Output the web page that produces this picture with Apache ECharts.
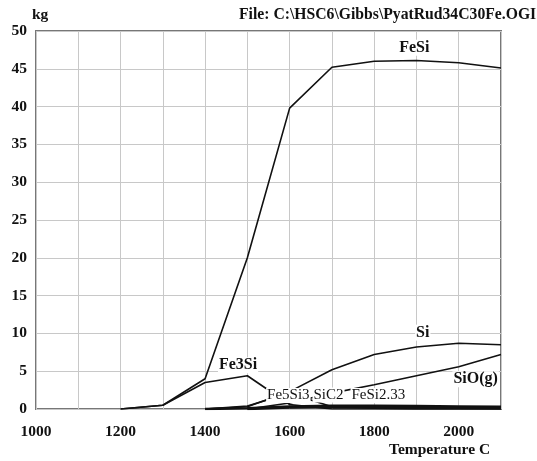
<!DOCTYPE html>
<html><head><meta charset="utf-8">
<script src="https://cdn.jsdelivr.net/npm/echarts@6/dist/echarts.min.js"></script>
<style>html,body{margin:0;padding:0;background:#fff}#c{width:537px;height:461px}</style>
</head><body><div id="c"></div>
<script>
var temps = [1000,1100,1200,1300,1400,1500,1600,1700,1800,1900,2000,2100];
var FeSi    = [null,null,0,0.5,4.0,20.0,39.8,45.2,46.0,46.1,45.8,45.1];
var Fe3Si   = [null,null,0,0.5,3.5,4.4,0.6,0,0,0,0,0];
var Si      = [null,null,null,null,0,0.3,2.3,5.2,7.2,8.2,8.7,8.5];
var SiOg    = [null,null,null,null,null,0,0.8,2.1,3.2,4.4,5.6,7.2];
var Fe5Si3  = [null,null,null,null,0,0.4,2.1,0.3,0.1,0,0,0];
var SiC     = [null,null,null,null,0,0.1,0.35,0.45,0.45,0.4,0.35,0.3];
var FeSi233 = [null,null,null,null,null,0,0.2,0.3,0.25,0.2,0.15,0.1];

var labelNames = ['FeSi','Si','Fe3Si','SiO(g)','Fe5Si3','SiC2','FeSi2.33'];
var labelT     = [1895,1915,1478,2040,1597,1692,1810];
var labelV     = [47.8,10.1,5.8,3.95,1.8,1.85,1.8];
var labelBold  = [true,true,true,true,false,false,false];

var yTicks = [0,5,10,15,20,25,30,35,40,45,50];
var xTickLabels = [1000,1200,1400,1600,1800,2000];

var FONT = '"Liberation Serif","Times New Roman",serif';
function pairs(arr){ return temps.map(function(t,i){ return [t, arr[i]]; }); }
var seriesData = [FeSi,Fe3Si,Si,SiOg,Fe5Si3,SiC,FeSi233];
var seriesNames = ['FeSi','Fe3Si','Si','SiO(g)','Fe5Si3','SiC','FeSi2.33'];
var widths = [1.6,1.6,1.6,1.6,1.6,2.4,2.4];

var series = seriesData.map(function(d,i){
  return {type:'line', name:seriesNames[i], data:pairs(d), symbol:'none', connectNulls:false,
    lineStyle:{color:'#111', width:widths[i]}, z:3, animation:false};
});
series.push({type:'line', data:[], symbol:'none', z:10, animation:false,
  markPoint:{symbol:'circle', symbolSize:0, animation:false,
    data: labelNames.map(function(n,i){
      return {coord:[labelT[i], labelV[i]], name:n,
        label:{show:true, position:'inside', formatter:n, color:'#111',
          fontFamily:FONT, fontSize: labelBold[i]?16:15, fontWeight: labelBold[i]?'bold':'normal',
          backgroundColor:'#fff', padding:[0,1]}};
    })}});

var chart = echarts.init(document.getElementById('c'), null, {renderer:'canvas'});
chart.setOption({
  animation:false,
  backgroundColor:'#fff',
  title:[
    {text:'File: C:\\HSC6\\Gibbs\\PyatRud34C30Fe.OGI', left:239, top:7, padding:0,
     textStyle:{fontFamily:FONT, fontSize:15.7, fontWeight:'bold', color:'#111'}},
    {text:'kg', left:32, top:7, padding:0, textStyle:{fontFamily:FONT, fontSize:15.5, fontWeight:'bold', color:'#111'}},
    {text:'Temperature C', left:389, top:442, padding:0, textStyle:{fontFamily:FONT, fontSize:15.5, fontWeight:'bold', color:'#111'}}
  ],
  grid:{left:36, right:36, top:31, bottom:52, show:true, borderColor:'#777', borderWidth:2, backgroundColor:'transparent'},
  xAxis:{type:'value', min:1000, max:2100, interval:100,
    axisLine:{show:false}, axisTick:{show:false},
    splitLine:{show:true, lineStyle:{color:'#c8c8c8', width:1}},
    axisLabel:{margin:15, color:'#111', fontFamily:FONT, fontSize:15.5, fontWeight:'bold',
      formatter:function(v){ return xTickLabels.indexOf(v)>=0 ? String(v) : ''; }}},
  yAxis:{type:'value', min:0, max:50, interval:5,
    axisLine:{show:false}, axisTick:{show:false},
    splitLine:{show:true, lineStyle:{color:'#c8c8c8', width:1}},
    axisLabel:{margin:9, color:'#111', fontFamily:FONT, fontSize:15.5, fontWeight:'bold',
      formatter:function(v){ return yTicks.indexOf(v)>=0 ? String(v) : ''; }}},
  series:series
});
</script></body></html>
